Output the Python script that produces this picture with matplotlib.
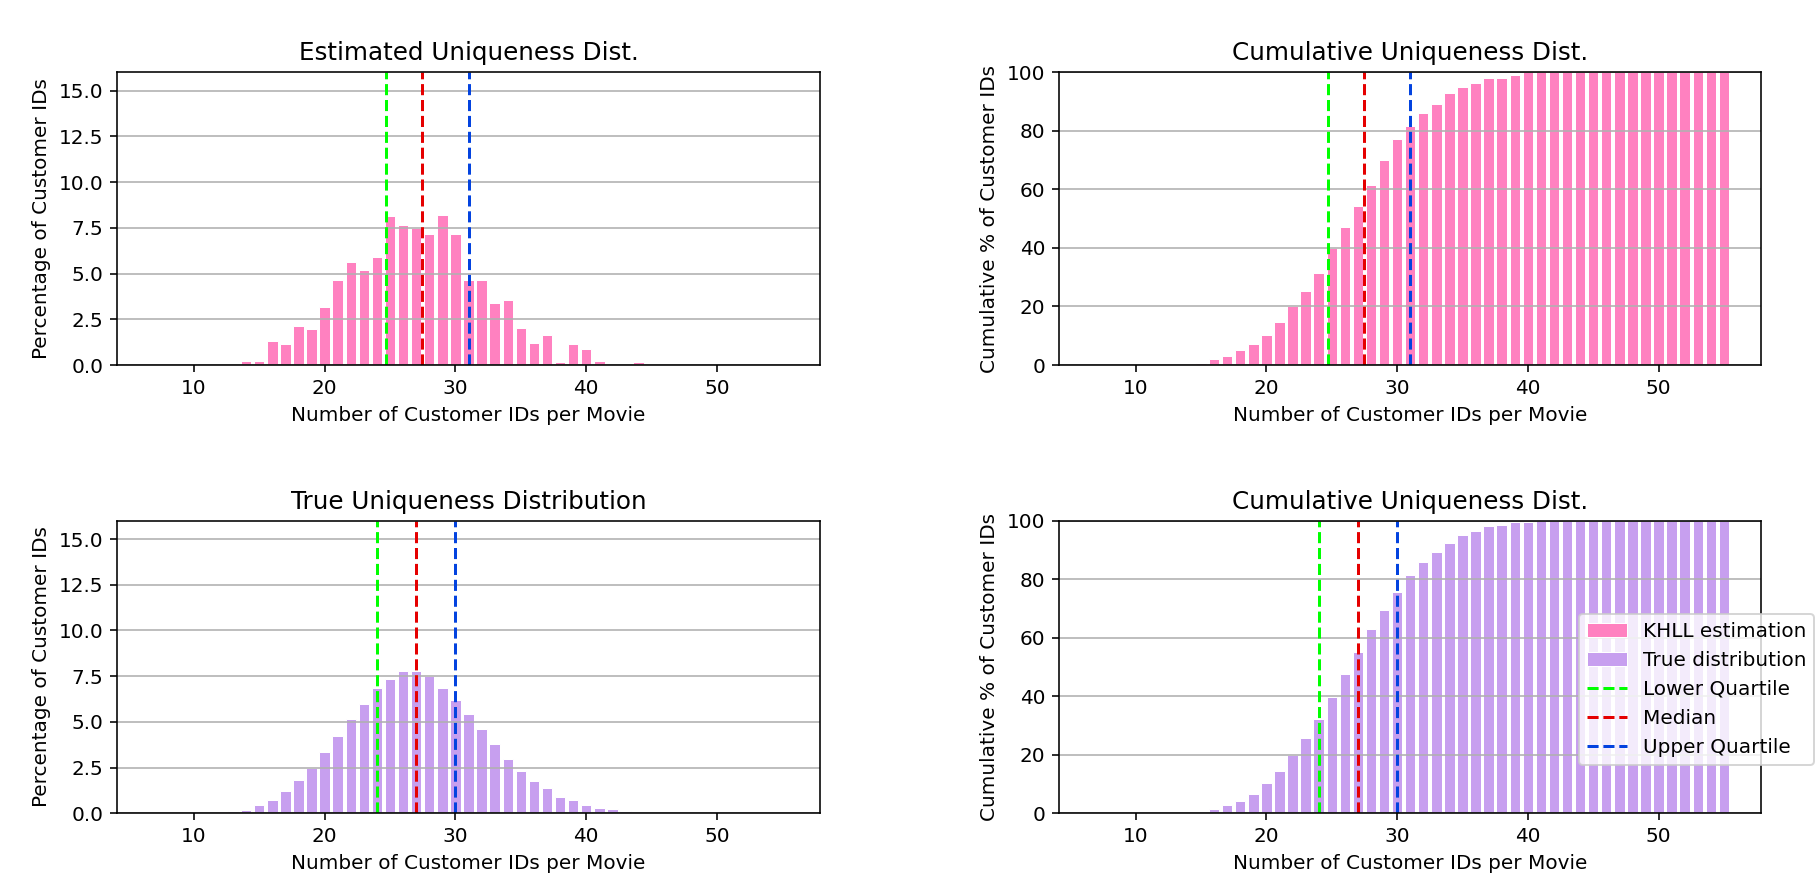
import numpy as np
import matplotlib
matplotlib.use('Agg')
import matplotlib.pyplot as plt

# x positions: number of customer IDs per movie
ids = np.arange(7, 56)

# estimated (KHLL) distribution, % per bin, x = 14..44
est_x = np.arange(14, 45)
est_pct = [0.24, 0.24, 1.29, 1.13, 2.11, 1.95, 3.17, 4.63, 5.61, 5.21,
           5.92, 8.12, 7.65, 7.50, 7.16, 8.20, 7.16, 4.63, 4.63, 3.41,
           3.57, 2.04, 1.22, 1.62, 0.16, 1.13, 0.89, 0.24, 0.0, 0.0, 0.16]
# cumulative estimated, x = 14..39 (100 afterwards)
est_cum_x = np.arange(14, 40)
est_cum = [0.5, 0.6, 1.9, 3.1, 5.0, 7.05, 10.1, 14.7, 20.0, 25.4,
           31.5, 39.8, 47.3, 54.4, 61.4, 70.1, 77.1, 81.7, 86.2, 89.3,
           92.9, 95.0, 96.5, 98.0, 98.0, 99.0]

# true distribution, % per bin, x = 13..45
true_x = np.arange(13, 46)
true_pct = [0.11, 0.2, 0.46, 0.7, 1.2, 1.8, 2.47, 3.35, 4.25, 5.15,
            6.0, 6.87, 7.36, 7.76, 7.76, 7.49, 6.87, 6.22, 5.42, 4.6,
            3.8, 2.98, 2.33, 1.76, 1.36, 0.89, 0.71, 0.47, 0.31, 0.22,
            0.15, 0.05, 0.02]
true_cum_x = np.arange(13, 41)
true_cum = [0.1, 0.3, 0.6, 1.6, 2.7, 4.2, 6.7, 10.3, 14.4, 19.8,
            25.6, 32.3, 39.8, 47.7, 55.2, 62.9, 69.6, 75.7, 81.3, 85.9,
            89.4, 92.5, 95.1, 96.6, 98.1, 98.6, 99.5, 99.7]

# quartiles
est_q = [24.7, 27.45, 31.0]
true_q = [24.0, 27.0, 30.0]

q_names = ['Lower Quartile', 'Median', 'Upper Quartile']
q_colors = ['#00ff00', '#e50000', '#0343df']
pink = '#ff81c0'
lav = '#c79fef'


def fill(xs, vals, fillval):
    out = np.full(len(ids), fillval, dtype=float)
    for x, v in zip(xs, vals):
        out[ids == x] = v
    return out


est_hist = fill(est_x, est_pct, 0.0)
true_hist = fill(true_x, true_pct, 0.0)
est_c = fill(est_cum_x, est_cum, 100.0)
est_c[ids < 14] = 0.0
true_c = fill(true_cum_x, true_cum, 100.0)
true_c[ids < 13] = 0.0

fig = plt.figure(figsize=(1817 / 144, 873 / 144), dpi=144)
ax1 = fig.add_axes([0.0646, 0.5819, 0.3865, 0.3353])
ax2 = fig.add_axes([0.583, 0.5819, 0.3862, 0.3353])
ax3 = fig.add_axes([0.0646, 0.0684, 0.3865, 0.3351])
ax4 = fig.add_axes([0.583, 0.0684, 0.3862, 0.3351])

xlab = 'Number of Customer IDs per Movie'
bars = {}
lines = []

for ax, vals, col, q, title, ylab in [
        (ax1, est_hist, pink, est_q, 'Estimated Uniqueness Dist.', 'Percentage of Customer IDs'),
        (ax2, est_c, pink, est_q, 'Cumulative Uniqueness Dist.', 'Cumulative % of Customer IDs'),
        (ax3, true_hist, lav, true_q, 'True Uniqueness Distribution', 'Percentage of Customer IDs'),
        (ax4, true_c, lav, true_q, 'Cumulative Uniqueness Dist.', 'Cumulative % of Customer IDs')]:
    lbl = 'KHLL estimation' if col == pink else 'True distribution'
    b = ax.bar(ids, vals, width=0.8, color=col, edgecolor='white', linewidth=0.5, label=lbl)
    bars[lbl] = b
    lines = []
    for qv, qn, qc in zip(q, q_names, q_colors):
        lines.append(ax.axvline(qv, color=qc, linestyle='--', linewidth=1.5, label=qn))
    ax.grid(axis='y')
    ax.set_xlabel(xlab, fontsize=10)
    ax.set_ylabel(ylab, fontsize=10)
    ax.set_title(title, fontsize=12.3)
    ax.set_xticks([10, 20, 30, 40, 50])
    ax.set_xlim(4.16, 57.84)
    if vals is est_c or vals is true_c:
        ax.set_ylim(0, 100)
        ax.set_yticks([0, 20, 40, 60, 80, 100])
    else:
        ax.set_ylim(0, 16)
        ax.set_yticks([0, 2.5, 5, 7.5, 10, 12.5, 15])
        ax.set_yticklabels(['0.0', '2.5', '5.0', '7.5', '10.0', '12.5', '15.0'])

# legend gathers both bar series plus the quartile lines
handles = [bars['KHLL estimation'], bars['True distribution']] + lines
labels = ['KHLL estimation', 'True distribution'] + q_names
ax4.legend(handles, labels, loc='lower left', bbox_to_anchor=(0.726, 0.131), fontsize=10)

fig.savefig('out.png', dpi=144)
